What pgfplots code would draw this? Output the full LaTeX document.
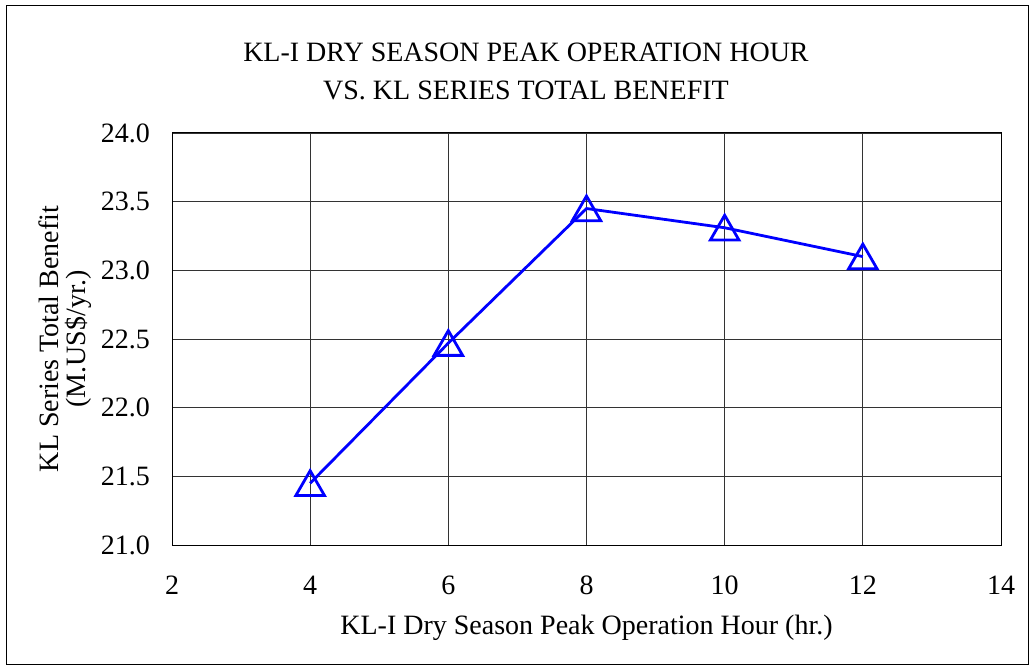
\documentclass[border=0pt]{standalone}
\usepackage{fontspec}
\setmainfont{Liberation Serif}
\usepackage{pgfplots}
\pgfplotsset{compat=1.18}
\begin{document}
\begin{tikzpicture}[font=\fontsize{28bp}{38bp}\selectfont]
\begin{axis}[
  at={(172bp,121bp)}, anchor=south west,
  scale only axis, width=829bp, height=412bp,
  xmin=2, xmax=14, ymin=21, ymax=24,
  xtick={2,4,6,8,10,12,14},
  ytick={21,21.5,22,22.5,23,23.5,24},
  /pgf/number format/assume math mode=true,
  yticklabel style={/pgf/number format/fixed, /pgf/number format/fixed zerofill, /pgf/number format/precision=1,
    inner sep=0pt, anchor=east, xshift=-22bp},
  xticklabel style={anchor=center, yshift=-40bp},
  grid=major,
  major grid style={black!80, line width=0.8bp},
  axis line style={black, line width=1bp},
  major tick length=0pt,
  xlabel={KL-I Dry Season Peak Operation Hour (hr.)},
  xlabel style={at={(rel axis cs:0.5,0)}, anchor=center, yshift=-83bp},
  clip=false,
]
\addplot[color=blue, line width=2.8bp, mark=triangle, mark size=16.5bp,
  mark options={solid, yshift=-4bp}]
  coordinates {(4,21.45) (6,22.47) (8,23.45) (10,23.31) (12,23.10)};
\end{axis}
\node[align=center] at (526bp,595bp) {KL-I DRY SEASON PEAK OPERATION HOUR\\VS. KL SERIES TOTAL BENEFIT};
\node[rotate=90, align=center, font=\fontsize{28bp}{27bp}\selectfont] at (65bp,327bp) {KL Series Total Benefit\\(M.US\$/yr.)};
\draw[line width=1bp] (6bp,1.5bp) rectangle (1028bp,660bp);
\pgfresetboundingbox
\path[use as bounding box] (0,0) rectangle (1035bp,666bp);
\end{tikzpicture}
\end{document}
